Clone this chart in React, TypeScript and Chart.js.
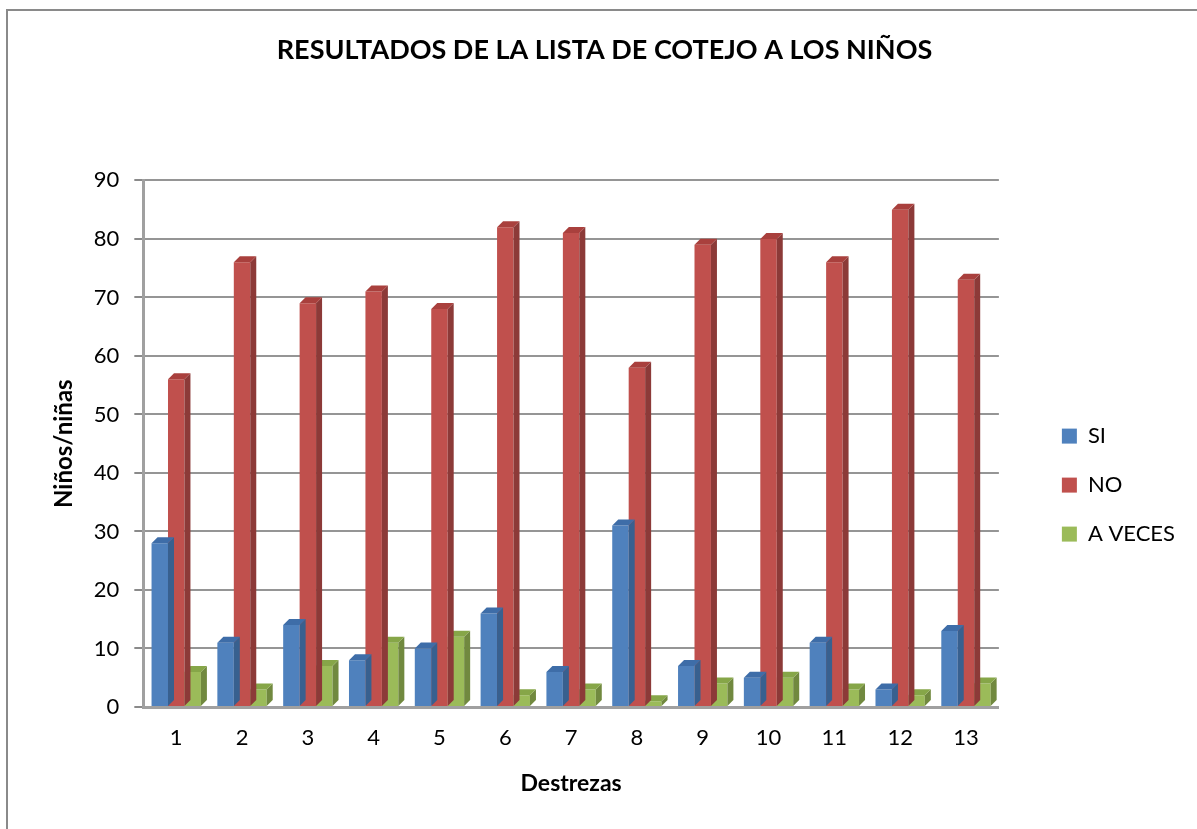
import React, { useEffect, useRef } from "react";
import { Chart, registerables } from "chart.js";

Chart.register(...registerables);

const categories = ["1", "2", "3", "4", "5", "6", "7", "8", "9", "10", "11", "12", "13"];
const siValues = [28, 11, 14, 8, 10, 16, 6, 31, 7, 5, 11, 3, 13];
const noValues = [56, 76, 69, 71, 68, 82, 81, 58, 79, 80, 76, 85, 73];
const aVecesValues = [6, 3, 7, 11, 12, 2, 3, 1, 4, 5, 3, 2, 4];
const seriesNames = ["SI", "NO", "A VECES"];
const frontColors = ["#4F81BD", "#C0504D", "#9BBB59"];
const sideColors = ["#38608F", "#8C3A38", "#71893F"];
const topColors = ["#3E6DA8", "#A9403D", "#86A648"];

const FONT = "Lato, 'Open Sans', sans-serif";

const depthPlugin = {
  id: "depth3d",
  afterDatasetDraw(chart: any, args: any) {
    const meta = chart.getDatasetMeta(args.index);
    const ctx = chart.ctx;
    const dx = 6;
    const dy = 6;
    ctx.save();
    meta.data.forEach((bar: any) => {
      const p = bar.getProps(["x", "y", "base", "width"], true);
      const left = p.x - p.width / 2;
      const right = p.x + p.width / 2;
      ctx.fillStyle = sideColors[args.index];
      ctx.beginPath();
      ctx.moveTo(right, p.y);
      ctx.lineTo(right + dx, p.y - dy);
      ctx.lineTo(right + dx, p.base - dy);
      ctx.lineTo(right, p.base);
      ctx.closePath();
      ctx.fill();
      ctx.fillStyle = topColors[args.index];
      ctx.beginPath();
      ctx.moveTo(left, p.y);
      ctx.lineTo(left + dx, p.y - dy);
      ctx.lineTo(right + dx, p.y - dy);
      ctx.lineTo(right, p.y);
      ctx.closePath();
      ctx.fill();
    });
    ctx.restore();
  },
};

export default function App() {
  const canvasRef = useRef<HTMLCanvasElement | null>(null);

  useEffect(() => {
    if (!canvasRef.current) return;
    const values = [siValues, noValues, aVecesValues];
    const chart = new Chart(canvasRef.current, {
      type: "bar",
      data: {
        labels: categories,
        datasets: seriesNames.map((name, i) => ({
          label: name,
          data: values[i],
          backgroundColor: frontColors[i],
          borderWidth: 0,
          categoryPercentage: 0.75,
          barPercentage: 1,
        })),
      },
      options: {
        responsive: false,
        animation: false,
        layout: { padding: { left: 24, right: 12, top: 0, bottom: 32 } },
        plugins: {
          title: {
            display: true,
            text: "RESULTADOS DE LA LISTA DE COTEJO A LOS NIÑOS",
            color: "#000",
            font: { family: FONT, size: 27, weight: "bold" },
            padding: { top: 34, bottom: 114 },
          },
          legend: {
            position: "right",
            align: "center",
            title: { display: true, text: " ", font: { size: 1 }, padding: { top: 172, bottom: 0 } },
            labels: {
              boxWidth: 15,
              boxHeight: 15,
              padding: 27,
              color: "#000",
              font: { family: FONT, size: 22 },
            },
          },
          tooltip: { enabled: false },
        },
        scales: {
          x: {
            grid: { display: false, drawTicks: false },
            border: { display: true, color: "#A0A0A0", width: 3 },
            ticks: { color: "#000", font: { family: FONT, size: 22 }, padding: 18 },
            title: {
              display: true,
              text: "Destrezas",
              color: "#000",
              font: { family: FONT, size: 23, weight: "bold" },
              padding: { top: 0, bottom: 0 },
            },
          },
          y: {
            min: 0,
            max: 90,
            ticks: { stepSize: 10, color: "#000", font: { family: FONT, size: 22 }, padding: 15 },
            grid: { color: "#959595", lineWidth: 2, tickLength: 9, tickColor: "#8A8A8A" },
            border: { display: true, color: "#A0A0A0", width: 3 },
            title: {
              display: true,
              text: "Niños/niñas",
              color: "#000",
              font: { family: FONT, size: 24, weight: "bold" },
              padding: { top: 26, bottom: 0 },
            },
          },
          gap: {
            type: "linear",
            position: "right",
            display: true,
            grid: { display: false, drawTicks: false },
            border: { display: false },
            ticks: { display: false },
            afterFit: (scale: any) => {
              scale.width = 36;
            },
          },
        },
      },
      plugins: [depthPlugin],
    });
    return () => chart.destroy();
  }, []);

  return (
    <div style={{ position: "absolute", left: 0, top: 0, width: 1197, height: 829, background: "#fff", overflow: "hidden" }}>
      <div
        style={{
          position: "absolute",
          left: 6,
          top: 9,
          width: 1300,
          height: 900,
          borderLeft: "2px solid #8A8A8A",
          borderTop: "2px solid #8A8A8A",
        }}
      />
      <canvas ref={canvasRef} width={1197} height={829} style={{ position: "absolute", left: 0, top: 0 }} />
    </div>
  );
}
